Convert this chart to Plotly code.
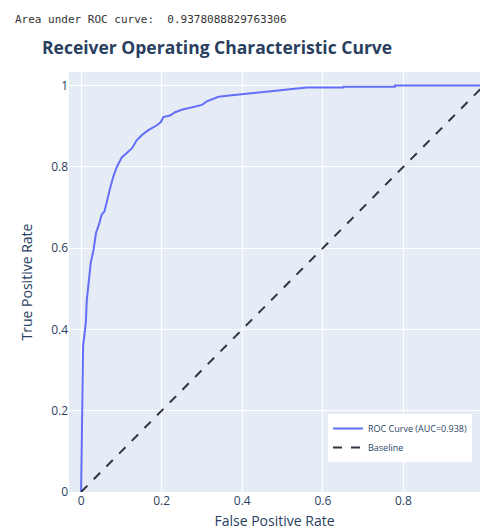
import plotly.graph_objects as go

# ROC curve points (false positive rate, true positive rate)
fpr = [0, 0.001, 0.003, 0.005, 0.010, 0.012, 0.014, 0.017, 0.020, 0.024, 0.031,
       0.037, 0.045, 0.051, 0.058, 0.066, 0.072, 0.080, 0.089, 0.101, 0.113,
       0.126, 0.138, 0.151, 0.167, 0.188, 0.198, 0.204, 0.221, 0.233, 0.250,
       0.270, 0.300, 0.312, 0.324, 0.341, 0.374, 0.411, 0.452, 0.498, 0.535,
       0.560, 0.651, 0.651, 0.779, 0.779, 1.0]
tpr = [0, 0.10, 0.25, 0.36, 0.40, 0.42, 0.47, 0.50, 0.52, 0.564, 0.596,
       0.637, 0.66, 0.682, 0.69, 0.727, 0.747, 0.776, 0.80, 0.823, 0.833,
       0.845, 0.865, 0.878, 0.89, 0.902, 0.91, 0.922, 0.926, 0.934, 0.940,
       0.945, 0.952, 0.961, 0.965, 0.972, 0.976, 0.980, 0.984, 0.988, 0.992,
       0.995, 0.995, 0.997, 0.997, 1.0, 1.0]

# Chance-level diagonal
baseline_x = [0, 1]
baseline_y = [0, 1]

auc_score = 0.9378088829763306

x_ticks = [0, 0.2, 0.4, 0.6, 0.8]
y_ticks = [0, 0.2, 0.4, 0.6, 0.8, 1]

fig = go.Figure()
fig.add_trace(go.Scatter(
    x=fpr, y=tpr, mode="lines",
    name=f"ROC Curve (AUC={auc_score:.3f})",
    line=dict(color="#636efa", width=2),
))
fig.add_trace(go.Scatter(
    x=baseline_x, y=baseline_y, mode="lines",
    name="Baseline",
    line=dict(color="#2f3640", width=2, dash="dash"),
))

fig.update_layout(
    template="plotly",
    width=480, height=530,
    margin=dict(l=69, r=0, t=72, b=38),
    title=dict(
        text="<b>Receiver Operating Characteristic Curve</b>",
        x=42 / 480, xanchor="left",
        y=1 - 48 / 530, yanchor="middle",
        font=dict(size=17.5, color="#2a3f5f"),
    ),
    legend=dict(
        x=0.9805, xanchor="right",
        y=0.0714, yanchor="bottom",
        bgcolor="white",
        font=dict(size=9, color="#2a3f5f"),
    ),
    xaxis=dict(
        range=[-0.03, 0.99],
        tickvals=x_ticks,
        title=dict(text="False Positive Rate", font=dict(size=14)),
        automargin=False,
        zeroline=False,
    ),
    yaxis=dict(
        range=[0, 1.033],
        tickvals=y_ticks,
        title=dict(text="True Positive Rate", font=dict(size=14)),
        automargin=False,
        zeroline=False,
    ),
)

fig.add_annotation(
    text=f"Area under ROC curve:  {auc_score}",
    xref="paper", yref="paper",
    x=(13 - 69) / 411, xanchor="left",
    y=(492 - 19.3) / 420, yanchor="middle",
    showarrow=False,
    font=dict(family="DejaVu Sans Mono, monospace", size=11, color="#333333"),
)

fig.write_html("out.html")
